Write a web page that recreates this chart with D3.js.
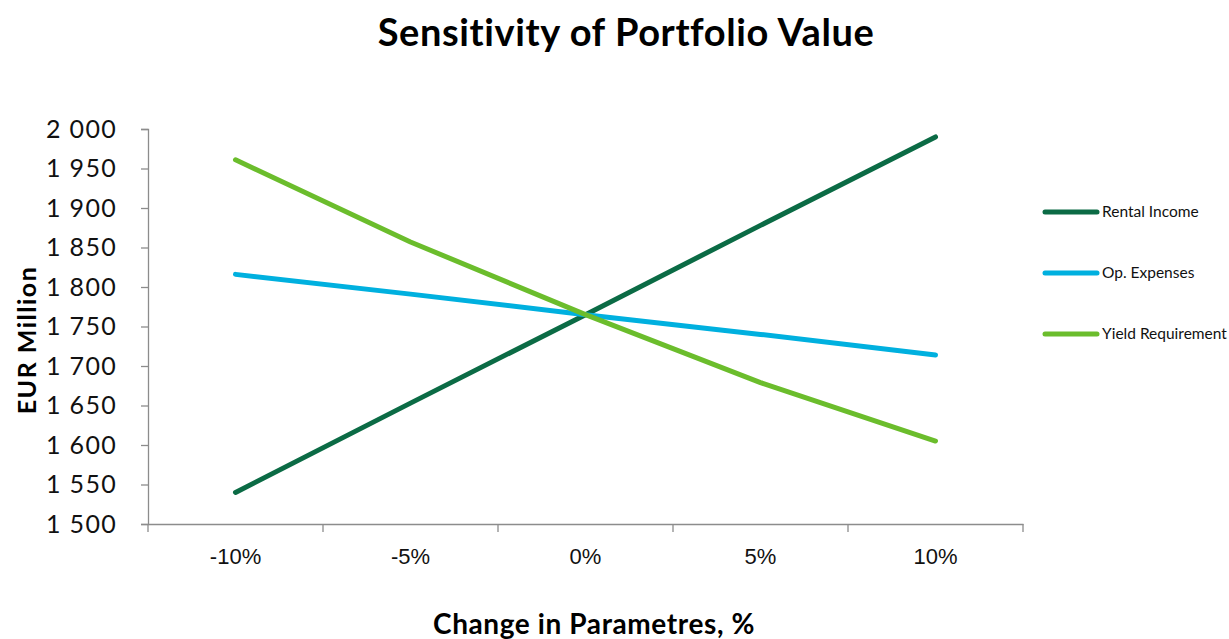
<!DOCTYPE html>
<html><head><meta charset="utf-8">
<script src="https://cdn.jsdelivr.net/npm/d3@7"></script>
<style>body{margin:0;background:#fff}</style>
</head><body>
<svg id="c" width="1229" height="639"></svg>
<script>
const categories = ["-10%", "-5%", "0%", "5%", "10%"];
const rentalIncome = [1540, 1653, 1765, 1878, 1990];
const opExpenses = [1816, 1791, 1765, 1740, 1714];
const yieldRequirement = [1961, 1857, 1765, 1679, 1605];
const seriesNames = ["Rental Income", "Op. Expenses", "Yield Requirement"];
const seriesColors = ["#0b6b45", "#00b0df", "#6bbd2c"];
const yTicks = [1500, 1550, 1600, 1650, 1700, 1750, 1800, 1850, 1900, 1950, 2000];

const series = [rentalIncome, opExpenses, yieldRequirement];
const svg = d3.select("#c");
const pLeft = 148, pRight = 1023, pTop = 129, pBottom = 524;

const x = d3.scaleBand().domain(categories).range([pLeft, pRight]);
const y = d3.scaleLinear().domain([1500, 2000]).range([pBottom, pTop]);

const fmt = v => { const s = String(v); return s.length > 3 ? s.slice(0, s.length-3) + " " + s.slice(-3) : s; };

// y axis
const ya = svg.append("g").attr("transform", `translate(${pLeft},0)`)
  .call(d3.axisLeft(y).tickValues(yTicks).tickFormat(fmt).tickSize(7).tickPadding(24));
ya.select(".domain").attr("stroke", "#8c8c8c").attr("stroke-width", 1.3);
ya.selectAll(".tick line").attr("stroke", "#8c8c8c").attr("stroke-width", 1.3);
ya.selectAll(".tick text").attr("font-family", "Lato, 'Noto Sans', sans-serif").attr("font-size", 25)
  .attr("letter-spacing", 1.3).attr("fill", "#111");

// x axis
const xa = svg.append("g").attr("transform", `translate(0,${pBottom})`)
  .call(d3.axisBottom(x).tickSize(0).tickPadding(24));
xa.select(".domain").attr("stroke", "#8c8c8c").attr("stroke-width", 1.3);
xa.selectAll(".tick text").attr("font-family", "'Liberation Sans Narrow', 'Liberation Sans', sans-serif").attr("font-size", 22).attr("fill", "#111");
const bounds = categories.map(c => x(c)).concat([x(categories[categories.length-1]) + x.bandwidth()]);
xa.selectAll(".bt").data(bounds).join("line").attr("class", "bt")
  .attr("x1", d => d).attr("x2", d => d).attr("y1", 0).attr("y2", 8)
  .attr("stroke", "#8c8c8c").attr("stroke-width", 1.3);

// lines
const line = d3.line().x((d, i) => x(categories[i]) + x.bandwidth()/2).y(d => y(d));
series.forEach((s, k) => {
  svg.append("path").datum(s).attr("d", line).attr("fill", "none")
    .attr("stroke", seriesColors[k]).attr("stroke-width", 5).attr("stroke-linecap", "round").attr("stroke-linejoin", "round");
});

// legend
const ly = [212, 273, 334];
seriesNames.forEach((n, k) => {
  svg.append("line").attr("x1", 1045).attr("x2", 1097).attr("y1", ly[k]).attr("y2", ly[k])
    .attr("stroke", seriesColors[k]).attr("stroke-width", 5).attr("stroke-linecap", "round");
  svg.append("text").attr("x", 1102).attr("y", ly[k] + 5).text(n)
    .attr("font-family", "Lato, 'Noto Sans', sans-serif").attr("font-size", 15.5).attr("fill", "#111");
});

// titles
svg.append("text").attr("x", 626).attr("y", 46).attr("text-anchor", "middle").text("Sensitivity of Portfolio Value")
  .attr("font-family", "Lato, sans-serif").attr("font-weight", "bold").attr("font-size", 38)
  .attr("letter-spacing", 0.6).attr("fill", "#000");
svg.append("text").attr("transform", "translate(36,340) rotate(-90)").attr("text-anchor", "middle").text("EUR Million")
  .attr("font-family", "Lato, sans-serif").attr("font-weight", "bold").attr("font-size", 25)
  .attr("letter-spacing", 1.5).attr("fill", "#000");
svg.append("text").attr("x", 594).attr("y", 634).attr("text-anchor", "middle").text("Change in Parametres, %")
  .attr("font-family", "Lato, sans-serif").attr("font-weight", "bold").attr("font-size", 28)
  .attr("letter-spacing", 0.6).attr("fill", "#000");
</script>
</body></html>
